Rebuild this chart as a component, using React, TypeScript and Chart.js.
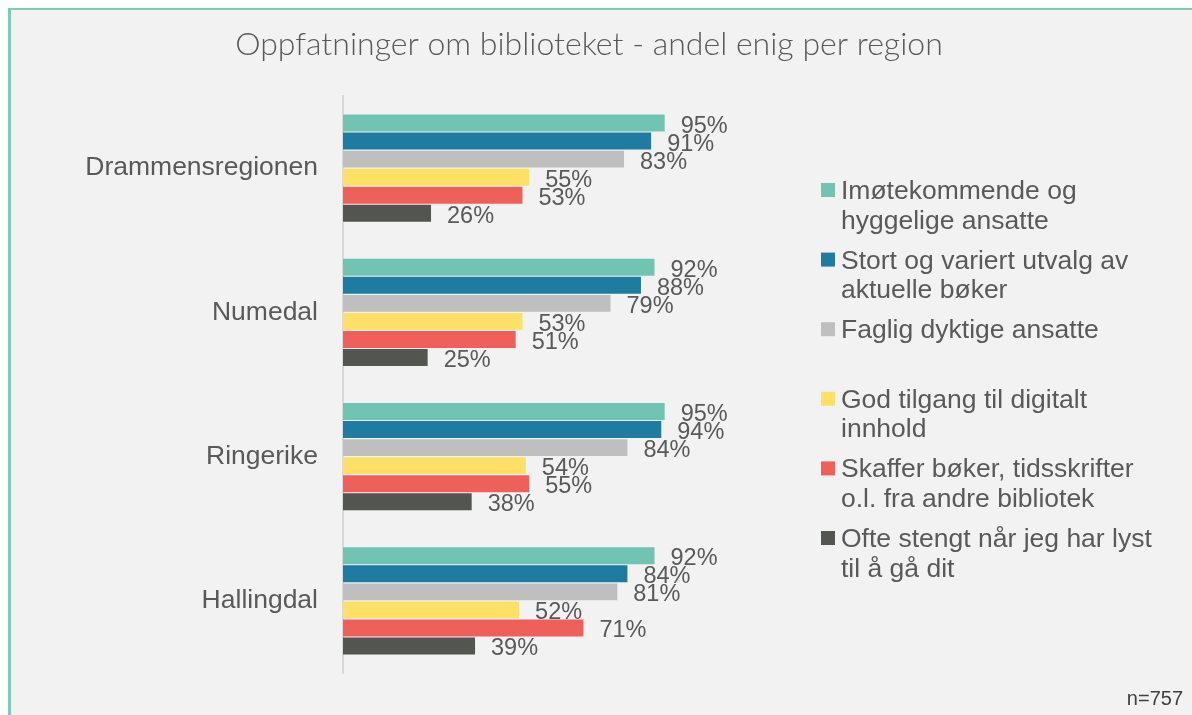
import React, { useEffect, useRef } from "react";
import { Chart, registerables } from "chart.js";

Chart.register(...registerables);

const chartTitle = "Oppfatninger om biblioteket - andel enig per region";
const sampleNote = "n=757";

const categories = ["Drammensregionen", "Numedal", "Ringerike", "Hallingdal"];

const seriesNames = [
  "Imøtekommende og hyggelige ansatte",
  "Stort og variert utvalg av aktuelle bøker",
  "Faglig dyktige ansatte",
  "God tilgang til digitalt innhold",
  "Skaffer bøker, tidsskrifter o.l. fra andre bibliotek",
  "Ofte stengt når jeg har lyst til å gå dit",
];

const legendLines = [
  ["Imøtekommende og", "hyggelige ansatte"],
  ["Stort og variert utvalg av", "aktuelle bøker"],
  ["Faglig dyktige ansatte"],
  ["God tilgang til digitalt", "innhold"],
  ["Skaffer bøker, tidsskrifter", "o.l. fra andre bibliotek"],
  ["Ofte stengt når jeg har lyst", "til å gå dit"],
];

const imotekommende = [95, 92, 95, 92];
const stortUtvalg = [91, 88, 94, 84];
const fagligDyktige = [83, 79, 84, 81];
const digitaltInnhold = [55, 53, 54, 52];
const skafferBoker = [53, 51, 55, 71];
const ofteStengt = [26, 25, 38, 39];

const seriesValues = [imotekommende, stortUtvalg, fagligDyktige, digitaltInnhold, skafferBoker, ofteStengt];

const seriesColors = ["#72c4b2", "#1f7ba0", "#bfbfbf", "#ffe066", "#f0605b", "#535551"];

const FONT = "'Liberation Sans', Arial, sans-serif";
const TEXT = "#595959";

const W = 1184;
const H = 707;

const backgroundPlugin = {
  id: "bgFrame",
  beforeDraw(chart: any) {
    const ctx = chart.ctx;
    ctx.save();
    ctx.fillStyle = "#f2f2f2";
    ctx.fillRect(0, 0, chart.width, chart.height);
    ctx.fillStyle = "#7ccab7";
    ctx.fillRect(0, 0, 3, chart.height);
    ctx.fillRect(0, 0, chart.width, 2);
    ctx.restore();
  },
};

const overlayPlugin = {
  id: "overlay",
  afterDatasetsDraw(chart: any) {
    const ctx = chart.ctx;
    ctx.save();
    ctx.font = `23.5px ${FONT}`;
    ctx.fillStyle = TEXT;
    ctx.textAlign = "left";
    ctx.textBaseline = "alphabetic";
    chart.data.datasets.forEach((ds: any, i: number) => {
      const meta = chart.getDatasetMeta(i);
      meta.data.forEach((bar: any, j: number) => {
        ctx.fillText(`${ds.data[j]}%`, bar.x + 16, bar.y + 9.5);
      });
    });
    ctx.restore();
  },
  afterDraw(chart: any) {
    const ctx = chart.ctx;
    ctx.save();
    // title
    let size = 28;
    ctx.font = `300 ${size}px Lato, 'Open Sans', sans-serif`;
    const w = ctx.measureText(chartTitle).width;
    size = (size * 708) / w;
    ctx.font = `300 ${size.toFixed(2)}px Lato, 'Open Sans', sans-serif`;
    ctx.fillStyle = TEXT;
    ctx.textAlign = "center";
    ctx.textBaseline = "alphabetic";
    ctx.fillText(chartTitle, 581, 47);

    // legend
    ctx.font = `26.5px ${FONT}`;
    ctx.textAlign = "left";
    legendLines.forEach((lines, i) => {
      const base = 191 + i * 69.6;
      ctx.fillStyle = seriesColors[i];
      ctx.fillRect(813, base - 16, 14, 14);
      ctx.fillStyle = TEXT;
      lines.forEach((ln, k) => {
        ctx.fillText(ln, 833, base + k * 29.5);
      });
    });

    // note
    ctx.font = `20px ${FONT}`;
    ctx.fillStyle = "#404040";
    ctx.textAlign = "right";
    ctx.fillText(sampleNote, 1175, 697);
    ctx.restore();
  },
};

export default function App() {
  const ref = useRef<HTMLCanvasElement | null>(null);

  useEffect(() => {
    if (!ref.current) return;
    const chart = new Chart(ref.current, {
      type: "bar",
      data: {
        labels: categories,
        datasets: seriesNames.map((name, i) => ({
          label: name,
          data: seriesValues[i],
          backgroundColor: seriesColors[i],
          borderWidth: 0,
          categoryPercentage: 0.75,
          barPercentage: 0.94,
        })),
      },
      options: {
        indexAxis: "y",
        responsive: false,
        animation: false,
        layout: { padding: { top: 88, bottom: 42, left: 0, right: 510.4 } },
        plugins: {
          legend: { display: false },
          title: { display: false },
          tooltip: { enabled: false },
        },
        scales: {
          x: { display: false, min: 0, max: 100 },
          y: {
            grid: { display: false, drawTicks: false },
            border: { display: true, color: "#d9d9d9", width: 2 },
            ticks: { font: { family: FONT, size: 26.5 }, color: TEXT, padding: 25 },
            afterFit(scale: any) {
              scale.width = 335;
            },
          },
        },
      } as any,
      plugins: [backgroundPlugin, overlayPlugin],
    });
    return () => chart.destroy();
  }, []);

  return (
    <div style={{ position: "fixed", left: 8, top: 8 }}>
      <canvas ref={ref} width={W} height={H} style={{ display: "block", width: W, height: H }} />
    </div>
  );
}
